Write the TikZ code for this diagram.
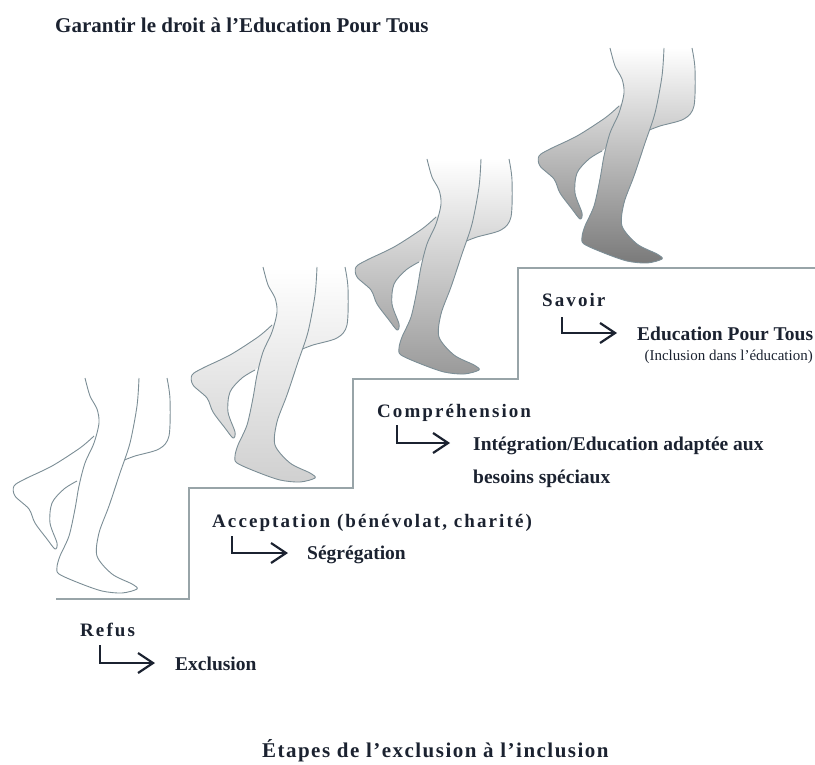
\documentclass[tikz,border=0pt]{standalone}
\usepackage{fontspec}
\setmainfont{Liberation Serif}
\newfontfamily\spacedfont[LetterSpace=11,Ligatures=TeX]{Liberation Serif}
\newfontfamily\captionfont[LetterSpace=7,Ligatures=TeX]{Liberation Serif}
\usetikzlibrary{arrows.meta}

\definecolor{ink}{HTML}{1B2230}
\definecolor{contour}{HTML}{7C8E96}
\definecolor{stairline}{HTML}{98A4A8}
\definecolor{legA}{HTML}{D0D0D0}
\definecolor{legAback}{HTML}{D8D8D8}
\definecolor{legB}{HTML}{9A9A9A}
\definecolor{legBback}{HTML}{A8A8A8}
\definecolor{legC}{HTML}{7A7A7A}
\definecolor{legCback}{HTML}{939393}

\tikzset{
  leg/.style={draw=contour, line width=0.9pt},
  stage/.style={anchor=base west, font=\fontsize{19}{23}\spacedfont\bfseries},
  outcome/.style={anchor=base west, font=\fontsize{19.5}{23}\selectfont\bfseries},
  steparrow/.style={draw=ink, line width=2.2pt, -{Straight Barb[length=15pt,width=20pt]}}
}

\begin{document}
\begin{tikzpicture}[x=1pt,y=-1pt]
  \useasboundingbox (0,0) rectangle (815,765);

  % stairs
  \draw[stairline, line width=1.4pt] (56,599) -- (189,599) -- (189,488) -- (353,488)
    -- (353,379) -- (518,379) -- (518,268) -- (815,268);

  % legs, one pair per step
  \foreach \dx/\dy/\frontcol/\backcol in {-178/111/white/white, 0/0/legA/legAback,
      164/-108/legB/legBback, 347/-219/legC/legCback} {
    \begin{scope}[shift={(\dx,\dy)}]
      \shade[top color=white, bottom color=\backcol] (317,267) -- (345,267)
        -- plot[smooth] coordinates {(345,267) (348,288) (347,325) (337,338) (313,345) (300,350)}
        -- (265,362)
        -- plot[smooth] coordinates {(255,370) (242,378) (230,392) (228,412) (235,432) (233,438)
             (225,428) (213,412) (207,398) (193,385) (192,375) (203,368) (230,355) (258,337) (272,325)}
        -- (300,300) -- cycle;
      \draw[leg] plot[smooth] coordinates {(345,267) (348,288) (347,325) (337,338) (313,345) (300,350)};
      \draw[leg] plot[smooth] coordinates {(272,325) (258,337) (230,355) (203,368) (192,375) (193,385)
        (207,398) (213,412) (225,428) (233,438) (235,432) (228,412) (230,392) (242,378) (255,370)};
      \shade[top color=white, bottom color=\frontcol] plot[smooth] coordinates {(263,267) (268,285)
        (275,298) (277,312) (272,332) (263,352) (257,375) (253,398) (247,425) (238,445) (235,456)
        (237,463) (257,472) (280,480) (300,482) (315,478) (310,473) (290,463) (275,445) (277,422)
        (287,395) (298,362) (308,332) (315,295) (317,267)} -- cycle;
      \draw[leg] plot[smooth] coordinates {(263,267) (268,285)
        (275,298) (277,312) (272,332) (263,352) (257,375) (253,398) (247,425) (238,445) (235,456)
        (237,463) (257,472) (280,480) (300,482) (315,478) (310,473) (290,463) (275,445) (277,422)
        (287,395) (298,362) (308,332) (315,295) (317,267)};
    \end{scope}
  }

  \begin{scope}[every node/.style={inner sep=0pt, text=ink}]
    \node[anchor=base west, font=\fontsize{21}{25}\selectfont\bfseries] (title) at (55,33)
      {Garantir le droit à l’Education Pour Tous};

    \node[stage]   (refus)     at (80,636)  {Refus};
    \node[outcome] (exclusion) at (175,670) {Exclusion};

    \node[stage]   (accept)    at (212,527) {Acceptation (bénévolat, charité)};
    \node[outcome] (segreg)    at (307,559) {Ségrégation};

    \node[stage]   (compr)     at (377,417) {Compréhension};
    \node[outcome] (integ)     at (473,450) {Intégration/Education adaptée aux};
    \node[outcome] (besoins)   at (473,483) {besoins spéciaux};

    \node[stage]   (savoir)    at (542,306) {Savoir};
    \node[outcome] (ept)       at (637,341) {Education Pour Tous};
    \node[anchor=base east, font=\fontsize{15}{18}\selectfont] (inclusion) at (813,360)
      {(Inclusion dans l’éducation)};

    \node[anchor=base west, font=\fontsize{21}{25}\captionfont\bfseries] (caption) at (262,757)
      {Étapes de l’exclusion à l’inclusion};
  \end{scope}

  \draw[steparrow] ([shift={(20pt,-9pt)}]refus.base west) |- ([shift={(-20pt,7pt)}]exclusion.base west);
  \draw[steparrow] ([shift={(20pt,-9pt)}]accept.base west) |- ([shift={(-19pt,6pt)}]segreg.base west);
  \draw[steparrow] ([shift={(20pt,-8pt)}]compr.base west) |- ([shift={(-23pt,7pt)}]integ.base west);
  \draw[steparrow] ([shift={(20pt,-11pt)}]savoir.base west) |- ([shift={(-20pt,8pt)}]ept.base west);
\end{tikzpicture}
\end{document}
